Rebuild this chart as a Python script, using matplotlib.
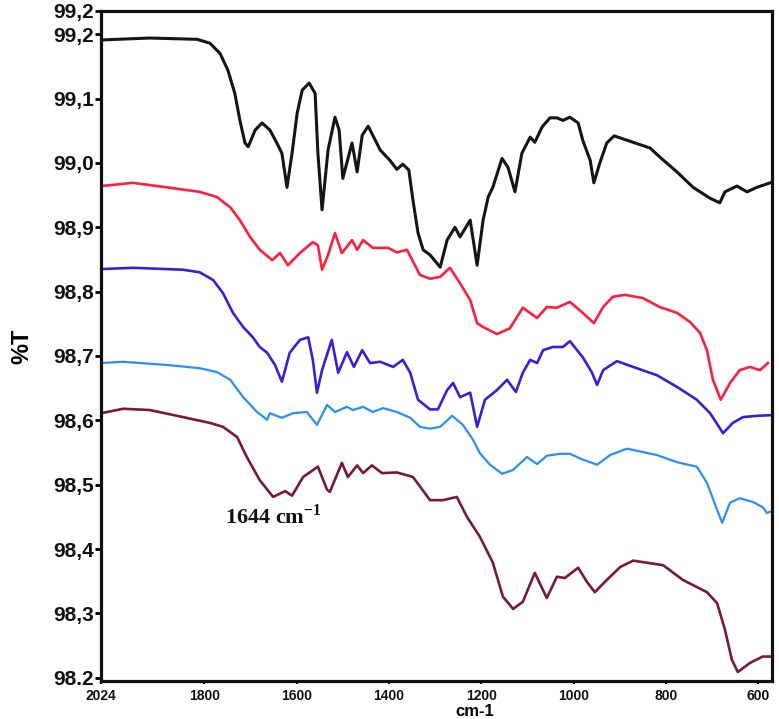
import matplotlib
matplotlib.use("Agg")
import matplotlib.pyplot as plt
from matplotlib import font_manager

# ---------------- data ----------------
wn_black = [2024, 1918, 1816, 1788, 1766, 1749, 1734, 1723, 1712, 1705, 1690, 1675, 1658, 1643, 1632,
            1621, 1610, 1599, 1588, 1573, 1560, 1554, 1545, 1532, 1517, 1508, 1500, 1480, 1469, 1458,
            1445, 1419, 1398, 1383, 1370, 1357, 1348, 1337, 1326, 1311, 1289, 1274, 1257, 1246, 1224,
            1209, 1196, 1185, 1175, 1155, 1142, 1127, 1112, 1094, 1084, 1068, 1051, 1036, 1023, 1008,
            990, 980, 964, 956, 943, 928, 912, 871, 834, 813, 776, 741, 704, 683, 672, 646, 624, 603, 574]
t_black = [99.191, 99.194, 99.192, 99.186, 99.170, 99.144, 99.108, 99.066, 99.031, 99.025, 99.051,
           99.062, 99.051, 99.031, 99.015, 98.962, 99.015, 99.077, 99.113, 99.124, 99.108, 99.015,
           98.927, 99.020, 99.071, 99.051, 98.976, 99.031, 98.986, 99.043, 99.057, 99.020, 99.004,
           98.990, 98.998, 98.989, 98.942, 98.891, 98.865, 98.857, 98.838, 98.880, 98.900, 98.885,
           98.911, 98.841, 98.911, 98.947, 98.962, 99.007, 98.993, 98.955, 99.015, 99.040, 99.032,
           99.056, 99.070, 99.070, 99.066, 99.071, 99.062, 99.035, 99.004, 98.969, 99.000, 99.031,
           99.042, 99.032, 99.023, 99.009, 98.986, 98.962, 98.945, 98.938, 98.955, 98.964, 98.955,
           98.962, 98.969]

wn_red = [2024, 1955, 1881, 1810, 1773, 1744, 1723, 1701, 1680, 1653, 1636, 1619, 1593, 1565, 1554,
          1545, 1532, 1517, 1502, 1480, 1469, 1456, 1435, 1402, 1383, 1361, 1333, 1311, 1289, 1268,
          1246, 1224, 1209, 1196, 1166, 1138, 1110, 1079, 1058, 1036, 1008, 980, 956, 936, 915, 889,
          850, 813, 776, 748, 726, 711, 698, 681, 661, 640, 618, 596, 579]
t_red = [98.964, 98.969, 98.962, 98.955, 98.947, 98.931, 98.911, 98.885, 98.865, 98.849, 98.860,
         98.841, 98.860, 98.877, 98.872, 98.834, 98.857, 98.891, 98.860, 98.880, 98.865, 98.880,
         98.868, 98.868, 98.861, 98.865, 98.826, 98.820, 98.823, 98.837, 98.813, 98.787, 98.751,
         98.745, 98.734, 98.743, 98.775, 98.759, 98.776, 98.775, 98.784, 98.767, 98.751, 98.776,
         98.792, 98.795, 98.790, 98.776, 98.767, 98.753, 98.736, 98.709, 98.663, 98.632, 98.658,
         98.678, 98.683, 98.678, 98.689]

wn_blue = [2024, 1955, 1846, 1810, 1781, 1760, 1738, 1716, 1695, 1680, 1664, 1647, 1632, 1615, 1593,
           1575, 1565, 1556, 1545, 1524, 1510, 1491, 1476, 1458, 1441, 1419, 1391, 1370, 1354, 1337,
           1311, 1294, 1274, 1261, 1246, 1224, 1209, 1192, 1166, 1144, 1125, 1110, 1094, 1079, 1066,
           1045, 1023, 1008, 980, 960, 949, 936, 906, 871, 819, 776, 733, 704, 676, 655, 633, 603, 574]
t_blue = [98.835, 98.837, 98.834, 98.830, 98.818, 98.798, 98.767, 98.745, 98.729, 98.714, 98.705,
          98.686, 98.660, 98.705, 98.725, 98.729, 98.694, 98.643, 98.678, 98.725, 98.674, 98.706,
          98.683, 98.709, 98.689, 98.691, 98.683, 98.694, 98.674, 98.632, 98.617, 98.617, 98.647,
          98.658, 98.636, 98.643, 98.590, 98.632, 98.647, 98.663, 98.644, 98.674, 98.694, 98.689,
          98.709, 98.714, 98.714, 98.723, 98.698, 98.674, 98.655, 98.678, 98.692, 98.683, 98.670,
          98.652, 98.632, 98.611, 98.580, 98.596, 98.605, 98.607, 98.608]

wn_lblue = [2024, 1976, 1881, 1810, 1773, 1744, 1716, 1686, 1664, 1658, 1632, 1608, 1578, 1556, 1534,
            1517, 1491, 1478, 1456, 1435, 1413, 1383, 1354, 1333, 1311, 1289, 1263, 1240, 1218, 1203,
            1181, 1155, 1131, 1101, 1079, 1058, 1029, 1008, 980, 949, 921, 884, 819, 776, 733, 711,
            689, 678, 661, 640, 611, 590, 581, 574]
t_lblue = [98.689, 98.691, 98.686, 98.681, 98.675, 98.663, 98.636, 98.613, 98.601, 98.611, 98.604,
           98.611, 98.613, 98.593, 98.624, 98.613, 98.621, 98.616, 98.621, 98.613, 98.619, 98.613,
           98.604, 98.590, 98.587, 98.590, 98.607, 98.593, 98.570, 98.549, 98.531, 98.517, 98.523,
           98.543, 98.532, 98.545, 98.548, 98.548, 98.539, 98.531, 98.546, 98.556, 98.546, 98.535,
           98.528, 98.503, 98.461, 98.441, 98.472, 98.479, 98.473, 98.465, 98.456, 98.458]

wn_maroon = [2024, 1976, 1918, 1846, 1788, 1760, 1729, 1708, 1680, 1651, 1625, 1610, 1586, 1554, 1534,
             1528, 1502, 1489, 1469, 1456, 1437, 1415, 1383, 1348, 1311, 1283, 1253, 1231, 1203, 1175,
             1153, 1131, 1110, 1084, 1058, 1036, 1019, 990, 971, 954, 928, 899, 871, 806, 763, 711,
             689, 672, 657, 644, 618, 590, 570]
t_maroon = [98.611, 98.618, 98.616, 98.605, 98.596, 98.590, 98.574, 98.543, 98.507, 98.481, 98.490,
            98.483, 98.512, 98.528, 98.492, 98.489, 98.534, 98.512, 98.530, 98.518, 98.530, 98.518,
            98.519, 98.512, 98.476, 98.476, 98.481, 98.450, 98.419, 98.379, 98.326, 98.307, 98.318,
            98.363, 98.324, 98.357, 98.355, 98.371, 98.349, 98.333, 98.352, 98.372, 98.382, 98.375,
            98.352, 98.333, 98.316, 98.275, 98.228, 98.209, 98.223, 98.233, 98.233]

series = [
    (wn_black, t_black, "#151515", 2.2),
    (wn_red, t_red, "#ff1f3d", 1.9),
    (wn_blue, t_blue, "#3b1fd6", 1.9),
    (wn_lblue, t_lblue, "#2a8ff5", 1.6),
    (wn_maroon, t_maroon, "#7a1a32", 1.9),
]

ytick_vals = [98.2, 98.3, 98.4, 98.5, 98.6, 98.7, 98.8, 98.9, 99.0, 99.1, 99.2, 99.236]
ytick_labels = ["98.2", "98,3", "98,4", "98,5", "98,6", "98,7", "98,8", "98,9", "99,0", "99,1", "99,2", "99,2"]
xtick_vals = [2024, 1800, 1600, 1400, 1200, 1000, 800, 600]
xtick_labels = ["2024", "1800", "1600", "1400", "1200", "1000", "800", "600"]

annot_text = r"1644 cm$^{\mathbf{-1}}$"
annot_pos = (1651, 98.450)

# ---------------- fonts ----------------
avail = {f.name for f in font_manager.fontManager.ttflist}
narrow = "Liberation Sans Narrow" if "Liberation Sans Narrow" in avail else "Liberation Sans"
plt.rcParams["font.family"] = [narrow, "DejaVu Sans"]
plt.rcParams["mathtext.fontset"] = "custom"
plt.rcParams["mathtext.rm"] = "Liberation Serif:bold"
plt.rcParams["mathtext.bf"] = "Liberation Serif:bold"

# ---------------- figure ----------------
fig = plt.figure(figsize=(7.79, 7.19), dpi=100)
ax = fig.add_axes([101 / 779, 1 - 681 / 719, (772 - 101) / 779, (681 - 11) / 719])

for wn, t, c, lw in series:
    ax.plot(wn, t, color=c, lw=lw, solid_joinstyle="round")

ax.set_xlim(2024, 570)
ax.set_ylim(98.195, 99.236)

ax.set_yticks(ytick_vals)
ax.set_yticklabels(ytick_labels, fontsize=15, fontweight="bold", color="#111111")
ax.set_xticks(xtick_vals)
ax.set_xticklabels(xtick_labels, fontsize=10, fontweight="bold", color="#111111")
ax.tick_params(axis="y", direction="out", length=4, width=2, pad=1)
ax.tick_params(axis="x", direction="out", length=2.5, width=1.5, pad=3)

for s in ax.spines.values():
    s.set_linewidth(2.3)
    s.set_color("#111111")

ax.set_xlabel("cm-1", fontsize=12, fontweight="bold", va="center")
ax.xaxis.set_label_coords((475 - 101) / (772 - 101), -(712 - 681) / (681 - 11))
ax.set_ylabel("%T", fontsize=17, fontweight="bold", labelpad=14)

ax.text(annot_pos[0], annot_pos[1], annot_text, fontsize=16, fontweight="bold",
        family="Liberation Serif", ha="center", va="center", color="#111111")

fig.savefig("out.png", dpi=100)
